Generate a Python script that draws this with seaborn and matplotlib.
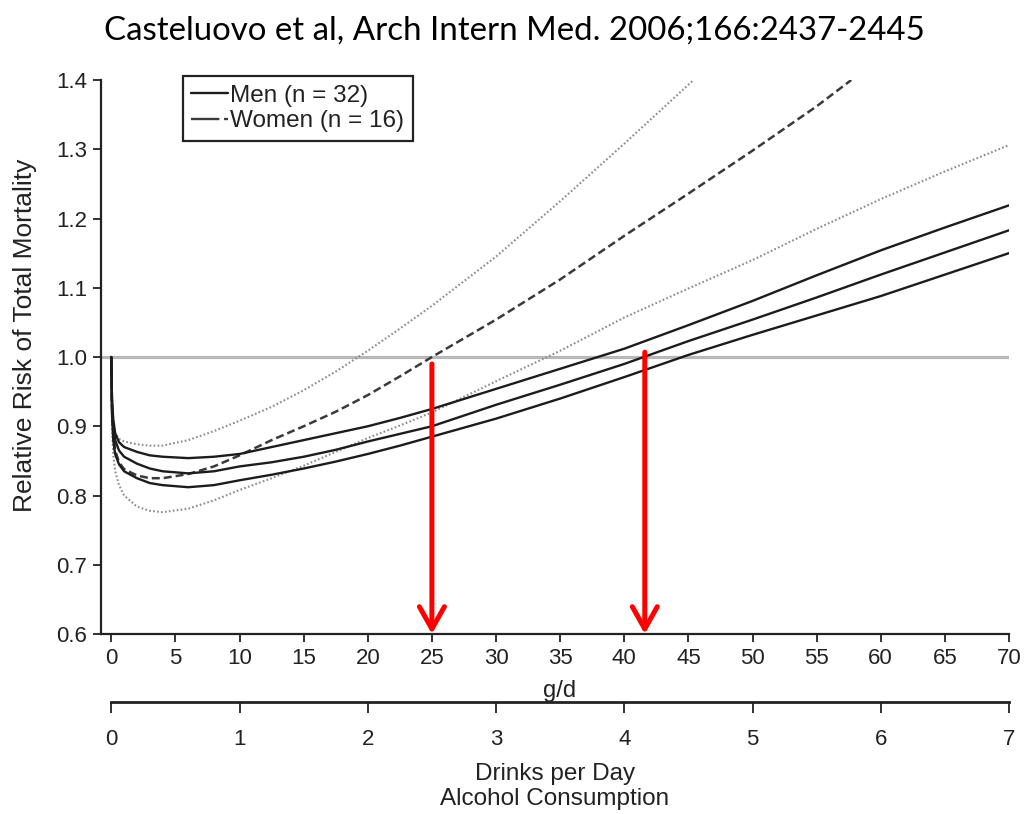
import numpy as np
import pandas as pd
import matplotlib
matplotlib.use("Agg")
import matplotlib.pyplot as plt
import seaborn as sns
from matplotlib.lines import Line2D
from matplotlib.ticker import FormatStrFormatter

# ---------------- data ----------------
g_grid = [0, 0.05, 0.15, 0.3, 0.6, 1, 2, 3, 4, 6, 8, 10, 12.5, 15, 17.5, 20,
          22.5, 25, 30, 35, 40, 45, 50, 55, 60, 65, 70]
men_mid = [1.0, 0.93, 0.90, 0.88, 0.865, 0.856, 0.846, 0.839, 0.835, 0.832, 0.835,
           0.842, 0.848, 0.856, 0.866, 0.878, 0.889, 0.900, 0.931, 0.960, 0.990,
           1.023, 1.054, 1.086, 1.119, 1.151, 1.183]
men_hi = [1.0, 0.94, 0.91, 0.89, 0.877, 0.870, 0.863, 0.858, 0.856, 0.854, 0.856,
          0.860, 0.870, 0.880, 0.890, 0.900, 0.912, 0.925, 0.954, 0.983, 1.012,
          1.046, 1.081, 1.118, 1.154, 1.187, 1.219]
men_lo = [1.0, 0.92, 0.88, 0.86, 0.845, 0.835, 0.825, 0.818, 0.815, 0.812, 0.815,
          0.822, 0.830, 0.839, 0.849, 0.860, 0.872, 0.885, 0.911, 0.940, 0.971,
          1.003, 1.032, 1.060, 1.088, 1.119, 1.150]
women_lo = [1.0, 0.90, 0.86, 0.835, 0.815, 0.800, 0.784, 0.778, 0.776, 0.781, 0.793,
            0.808, 0.825, 0.843, 0.863, 0.883, 0.901, 0.920, 0.965, 1.009, 1.057,
            1.099, 1.140, 1.185, 1.228, 1.268, 1.306]

g_women_mid = [0, 0.05, 0.15, 0.3, 0.6, 1, 2, 3, 4, 6, 8, 10, 12.5, 15, 17.5, 20,
               22.5, 25, 30, 35, 40, 45, 50, 55, 57.7]
women_mid = [1.0, 0.93, 0.89, 0.865, 0.848, 0.838, 0.829, 0.825, 0.825, 0.831, 0.842,
             0.858, 0.880, 0.900, 0.921, 0.945, 0.972, 1.0, 1.054, 1.112, 1.175,
             1.236, 1.298, 1.362, 1.40]

g_women_hi = [0, 0.05, 0.15, 0.3, 0.6, 1, 2, 3, 4, 6, 8, 10, 12.5, 15, 17.5, 20,
              22.5, 25, 30, 35, 40, 45.4]
women_hi = [1.0, 0.95, 0.91, 0.89, 0.882, 0.878, 0.874, 0.872, 0.872, 0.880, 0.893,
            0.908, 0.928, 0.952, 0.979, 1.009, 1.041, 1.074, 1.145, 1.225, 1.308, 1.40]

x_ticks = list(range(0, 71, 5))
y_ticks = [0.6, 0.7, 0.8, 0.9, 1.0, 1.1, 1.2, 1.3, 1.4]
drink_ticks = [0, 1, 2, 3, 4, 5, 6, 7]
arrow_x = [25, 41.6]
arrow_top = [0.99, 1.007]
legend_labels = ["Men (n = 32)", "Women (n = 16)"]
title = "Casteluovo et al, Arch Intern Med. 2006;166:2437-2445"

# ---------------- style ----------------
sns.set_style("ticks")
plt.rcParams["font.family"] = ["Liberation Sans", "DejaVu Sans"]

fig = plt.figure(figsize=(10.28, 8.14), dpi=100)
ax = fig.add_axes([0.0983, 0.2211, 0.8832, 0.6806])

ax.axhline(1.0, color="#b8b8b8", lw=2.3, zorder=1)

dark = "#1c1c1c"
light = "#8a8a8a"


def draw(xs, ys, **kw):
    df = pd.DataFrame({"g": xs, "rr": ys})
    sns.lineplot(data=df, x="g", y="rr", ax=ax, estimator=None, sort=False, **kw)


draw(g_grid, women_lo, color=light, lw=1.5, linestyle=(0, (0.8, 1.1)), zorder=2)
draw(g_women_hi, women_hi, color=light, lw=1.5, linestyle=(0, (0.8, 1.1)), zorder=2)
draw(g_women_mid, women_mid, color="#3a3a3a", lw=1.8, linestyle=(0, (3.2, 1.6)), zorder=3)
draw(g_grid, men_hi, color=dark, lw=1.7, zorder=4)
draw(g_grid, men_mid, color=dark, lw=1.7, zorder=4)
draw(g_grid, men_lo, color=dark, lw=1.7, zorder=4)

for xa, ya in zip(arrow_x, arrow_top):
    ax.annotate("", xy=(xa, 0.6), xytext=(xa, ya),
                arrowprops=dict(arrowstyle="->,head_length=0.8,head_width=0.45",
                                color="#ff0000", lw=3.6, shrinkA=0, shrinkB=0,
                                mutation_scale=20), zorder=6)

ax.set_xlim(-0.8, 70)
ax.set_ylim(0.6, 1.4)
ax.set_xticks(x_ticks)
ax.set_yticks(y_ticks)
ax.yaxis.set_major_formatter(FormatStrFormatter("%.1f"))
sns.despine(ax=ax)
for s in ("left", "bottom"):
    ax.spines[s].set_linewidth(1.6)
    ax.spines[s].set_color("#222222")
ax.tick_params(labelsize=16, length=6, width=1.3, pad=4, color="#222222",
               labelcolor="#222222")
ax.set_xlabel("g/d", fontsize=17, color="#222222")
ax.xaxis.set_label_coords(0.505, -0.083)
ax.set_ylabel("Relative Risk of Total Mortality", fontsize=19, color="#222222")
ax.yaxis.set_label_coords(-0.071, 0.54)

sec = ax.secondary_xaxis(-0.122, functions=(lambda x: x / 10, lambda x: x * 10))
sec.set_xticks(drink_ticks)
sec.spines["bottom"].set_bounds(0, 7)
sec.spines["bottom"].set_linewidth(2.0)
sec.spines["bottom"].set_color("#222222")
sec.tick_params(labelsize=16, length=8, width=1.3, pad=12, color="#222222",
                labelcolor="#222222")
sec.set_xlabel("Drinks per Day\nAlcohol Consumption", fontsize=17.5, labelpad=9,
               linespacing=1.2, color="#222222")

handles = [Line2D([], [], color=dark, lw=1.7),
           Line2D([], [], color="#3a3a3a", lw=1.7, dashes=(12, 2, 5, 2))]
leg = ax.legend(handles, legend_labels, loc="upper left",
                bbox_to_anchor=(0.090, 1.007), borderaxespad=0, fontsize=17.5,
                frameon=True, fancybox=False, framealpha=1, edgecolor="#222222",
                borderpad=0.35, handlelength=1.5, handletextpad=0.1,
                labelspacing=0.15)
leg.get_frame().set_linewidth(1.6)
for t in leg.get_texts():
    t.set_color("#222222")

fig.text(0.5, 0.963, title, ha="center", va="center", fontsize=23.8,
         family=["Lato", "DejaVu Sans"], color="black")

fig.savefig("out.png", dpi=100, facecolor="white")
